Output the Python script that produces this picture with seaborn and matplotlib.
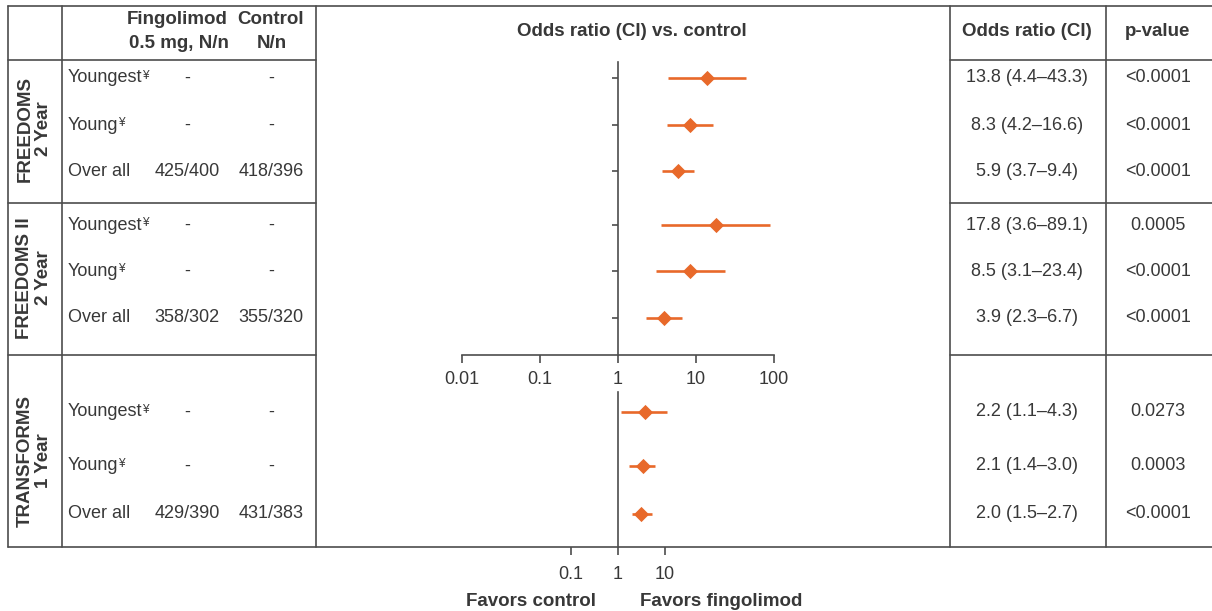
import numpy as np
import pandas as pd
import matplotlib
matplotlib.use("Agg")
import matplotlib.pyplot as plt
import seaborn as sns

# ---------------- data ----------------
studies = ["FREEDOMS", "FREEDOMS II", "TRANSFORMS"]
durations = ["2 Year", "2 Year", "1 Year"]
subgroups = ["Youngest", "Young", "Over all"]
subgroup_mark = ["¥", "¥", ""]
fingo_n = ["-", "-", "425/400", "-", "-", "358/302", "-", "-", "429/390"]
control_n = ["-", "-", "418/396", "-", "-", "355/320", "-", "-", "431/383"]
odds = [13.8, 8.3, 5.9, 17.8, 8.5, 3.9, 2.2, 2.1, 2.0]
ci_low = [4.4, 4.2, 3.7, 3.6, 3.1, 2.3, 1.1, 1.4, 1.5]
ci_high = [43.3, 16.6, 9.4, 89.1, 23.4, 6.7, 4.3, 3.0, 2.7]
p_values = ["<0.0001", "<0.0001", "<0.0001", "0.0005", "<0.0001", "<0.0001",
            "0.0273", "0.0003", "<0.0001"]
top_ticks = [0.01, 0.1, 1, 10, 100]
top_tick_labels = ["0.01", "0.1", "1", "10", "100"]
bottom_ticks = [0.1, 1, 10]
bottom_tick_labels = ["0.1", "1", "10"]

# ---------------- style ----------------
sns.set_theme(style="white")
plt.rcParams["font.family"] = ["Liberation Sans", "DejaVu Sans"]
TXT = "#383838"
LC = "#4d4d4d"
ORANGE = "#E8692A"
FS = 13
FSB = 13.5
LW = 1.2

W, H = 1212, 611
fig = plt.figure(figsize=(W / 100, H / 100), dpi=100)
fig.patch.set_facecolor("white")

bg = fig.add_axes([0, 0, 1, 1])
bg.set_xlim(0, W)
bg.set_ylim(H, 0)
bg.axis("off")
bg.set_zorder(0)


def fax(x0, y0, x1, y1):
    a = fig.add_axes([x0 / W, 1 - y1 / H, (x1 - x0) / W, (y1 - y0) / H])
    a.patch.set_alpha(0)
    a.set_zorder(2)
    return a


# ---------------- layout (pixels) ----------------
X_LEFT, X_SUB, X_TAB_END, X_MID_END, X_P = 8, 62, 316, 950, 1106
Y_TOP, Y_HEAD = 6, 60
SEC_BOUNDS = [60, 203, 355, 547]
ROW_Y = [78, 125, 171, 225, 271, 318, 412, 466, 514]
STUDY_CENTER = [129, 278, 461]
X_ONE = 618
PX_DEC_TOP = 78.0
PX_DEC_BOTTOM = 47.0

# table lines
bg.plot([X_LEFT, W], [Y_TOP, Y_TOP], color=LC, lw=LW)
bg.plot([X_LEFT, W], [SEC_BOUNDS[-1]] * 2, color=LC, lw=LW)
for yy in SEC_BOUNDS[:-1]:
    bg.plot([X_LEFT, X_TAB_END], [yy, yy], color=LC, lw=LW)
    bg.plot([X_MID_END, W], [yy, yy], color=LC, lw=LW)
for xx in [X_LEFT, X_SUB, X_TAB_END, X_MID_END, X_P]:
    bg.plot([xx, xx], [Y_TOP, SEC_BOUNDS[-1]], color=LC, lw=LW)

# headers
hkw = dict(fontsize=FSB, color=TXT, fontweight="bold", ha="center", va="center")
bg.text(177, 20, "Fingolimod", **hkw)
bg.text(179, 43, "0.5 mg, N/n", **hkw)
bg.text(271, 20, "Control", **hkw)
bg.text(272, 43, "N/n", **hkw)
bg.text(632, 32, "Odds ratio (CI) vs. control", **hkw)
bg.text(1027, 32, "Odds ratio (CI)", **hkw)
bg.text(1158, 32, "p-value", **hkw)

# study labels
for i, (s, d) in enumerate(zip(studies, durations)):
    bg.text(25, STUDY_CENTER[i], s, rotation=90, **hkw)
    bg.text(44, STUDY_CENTER[i], d, rotation=90, **hkw)

# rows
rkw = dict(fontsize=FS, color=TXT, va="center")
for k, y in enumerate(ROW_Y):
    t = bg.text(68, y, subgroups[k % 3], ha="left", **rkw)
    if subgroup_mark[k % 3]:
        bg.annotate(subgroup_mark[k % 3], xy=(1.0, 0.95), xycoords=t,
                    ha="left", va="top", fontsize=8.5, color=TXT)
    bg.text(187, y, fingo_n[k], ha="center", **rkw)
    bg.text(271, y, control_n[k], ha="center", **rkw)
    bg.text(1027, y, f"{odds[k]:.1f} ({ci_low[k]:.1f}\u2013{ci_high[k]:.1f})",
            ha="center", **rkw)
    bg.text(1158, y, p_values[k], ha="center", **rkw)

df = pd.DataFrame({"odds": odds, "lo": ci_low, "hi": ci_high, "y": ROW_Y,
                   "panel": ["top"] * 6 + ["bottom"] * 3})

xlim_top = (10 ** ((X_TAB_END - X_ONE) / PX_DEC_TOP), 10 ** ((X_MID_END - X_ONE) / PX_DEC_TOP))


def forest(ax, sub, ybounds):
    ax.hlines(sub["y"], sub["lo"], sub["hi"], color=ORANGE, lw=1.9, zorder=2)
    sns.scatterplot(data=sub, x="odds", y="y", marker="D", s=60, color=ORANGE,
                    edgecolor=ORANGE, linewidth=0, ax=ax, legend=False, zorder=3)
    ax.set_xscale("log")
    ax.set_xlim(*xlim_top)
    ax.set_xlabel("")
    ax.set_ylabel("")
    for sp in ["top", "right"]:
        ax.spines[sp].set_visible(False)
    ax.spines["left"].set_position(("data", 1))
    ax.spines["left"].set_color(LC)
    ax.spines["left"].set_linewidth(LW)
    ax.spines["left"].set_bounds(*ybounds)
    ax.set_yticks(sub["y"])
    ax.tick_params(axis="y", left=True, labelleft=False, direction="out",
                   length=4, width=LW, color=LC)
    ax.minorticks_off()
    ax.grid(False)


# top forest panel
ax_t = fax(X_TAB_END, SEC_BOUNDS[0], X_MID_END, SEC_BOUNDS[2])
forest(ax_t, df[df.panel == "top"], (SEC_BOUNDS[2], SEC_BOUNDS[0] + 2))
ax_t.set_ylim(SEC_BOUNDS[2], SEC_BOUNDS[0])
ax_t.spines["bottom"].set_color(LC)
ax_t.spines["bottom"].set_linewidth(LW)
ax_t.spines["bottom"].set_bounds(top_ticks[0], top_ticks[-1])
ax_t.set_xticks(top_ticks)
ax_t.set_xticklabels(top_tick_labels)
ax_t.xaxis.set_minor_locator(matplotlib.ticker.NullLocator())
ax_t.tick_params(axis="x", bottom=True, direction="out", length=5.5, width=LW,
                 color=LC, labelsize=FS, labelcolor=TXT, pad=6)

# bottom forest panel
ax_b = fax(X_TAB_END, 360, X_MID_END, SEC_BOUNDS[3])
forest(ax_b, df[df.panel == "bottom"], (392, SEC_BOUNDS[3]))
ax_b.set_ylim(SEC_BOUNDS[3], 360)
ax_b.spines["bottom"].set_visible(False)
ax_b.set_xticks([])
ax_b.xaxis.set_minor_locator(matplotlib.ticker.NullLocator())

ax2 = ax_b.twiny()
ax2.set_zorder(2)
ax2.patch.set_alpha(0)
ax2.set_xscale("log")
ax2.set_xlim(10 ** ((X_TAB_END - X_ONE) / PX_DEC_BOTTOM), 10 ** ((X_MID_END - X_ONE) / PX_DEC_BOTTOM))
for sp in ax2.spines.values():
    sp.set_visible(False)
ax2.xaxis.set_ticks_position("bottom")
ax2.xaxis.set_label_position("bottom")
ax2.set_xticks(bottom_ticks)
ax2.set_xticklabels(bottom_tick_labels)
ax2.xaxis.set_minor_locator(matplotlib.ticker.NullLocator())
ax2.tick_params(axis="x", bottom=True, top=False, direction="out", length=6,
                width=LW, color=LC, labelsize=FS, labelcolor=TXT, pad=7.5)
ax2.set_yticks([])
ax2.grid(False)

# favors labels
bg.text(531, 601, "Favors control", **hkw)
bg.text(721, 601, "Favors fingolimod", **hkw)

fig.savefig("out.png", dpi=100, facecolor="white")
